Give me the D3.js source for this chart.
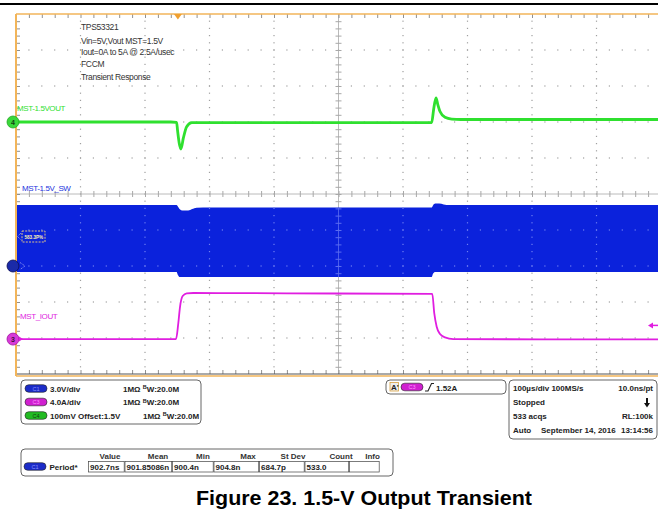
<!DOCTYPE html>
<html><head><meta charset="utf-8">
<script src="https://cdn.jsdelivr.net/npm/d3@7"></script>
<style>
html,body{margin:0;padding:0;background:#fff;}
svg{display:block;font-family:Arial,"Liberation Sans",sans-serif;}
</style></head><body>
<svg id="chart" width="658" height="529"></svg>
<script>
// ---------- data ----------
// CH4 : output voltage (V), time in microseconds from left edge of screen
const voutTime  = [0, 120, 240, 249, 250.5, 253, 255.8, 259.4, 264.6, 272.4, 282, 420, 644.5, 647.5, 651.2, 654, 657.4, 665.1, 675.5, 690, 850, 1000];
const voutVolts = [1.500, 1.500, 1.500, 1.499, 1.476, 1.442, 1.425, 1.455, 1.487, 1.498, 1.4985, 1.4985, 1.4985, 1.535, 1.567, 1.548, 1.529, 1.513, 1.508, 1.507, 1.507, 1.507];
// CH1 : switch node envelope (V)
const swTime = [0, 249, 251, 254, 258, 267, 273, 280, 300, 644.5, 646.5, 650, 656, 663, 672, 1000];
const swHigh = [5.08, 5.08, 4.95, 4.72, 4.62, 4.62, 4.74, 4.86, 4.88, 4.88, 5.05, 5.20, 5.20, 5.13, 5.08, 5.08];
const swLow  = [-0.50, -0.50, -0.75, -0.92, -0.92, -0.92, -0.92, -0.92, -0.92, -0.92, -0.65, -0.50, -0.50, -0.50, -0.50, -0.50];
// CH3 : output current (A)
const ioutTime = [0, 120, 247, 248.1, 251.6, 254.3, 258.4, 264.7, 274.9, 420, 645.4, 648.5, 652.2, 657.4, 665.1, 678, 820, 1000];
const ioutAmps = [0, 0, 0, 0, 1.74, 3.59, 4.78, 5.08, 5.12, 5.08, 5.02, 2.85, 1.37, 0.56, 0.19, 0.0, -0.03, -0.03];

const noteLines = ["TPS53321", "Vin=5V,Vout MST=1.5V", "Iout=0A to 5A @ 2.5A/usec", "FCCM", "Transient Response"];
const traceLabels = ["MST-1.5VOUT", "MST-1.5V_SW", "MST_IOUT"];
const chanNames = ["C1", "C3", "C4"];
const chanScales = ["3.0V/div", "4.0A/div", "100mV  Offset:1.5V"];
const chanImp = ["1MΩ", "1MΩ", "1MΩ"];
const chanBw = ["W:20.0M", "W:20.0M", "W:20.0M"];
const trigLevel = "1.52A";
const trigAmps = 1.52;
const timebase = ["100µs/div  100MS/s", "10.0ns/pt", "Stopped", "533 acqs", "RL:100k", "Auto", "September 14, 2016", "13:14:56"];
const measHeaders = ["Value", "Mean", "Min", "Max", "St Dev", "Count", "Info"];
const measValues = ["902.7ns", "901.85086n", "900.4n", "904.8n", "684.7p", "533.0", ""];
const measName = "Period*";
const badgeText = "583.3P%";
const figTitle = "Figure 23. 1.5-V Output Transient";

// ---------- drawing ----------
const svg = d3.select("#chart");
const L = 16, R = 661, T = 14, B = 374;
const x = d3.scaleLinear().domain([0, 1000]).range([L, R]);
const dv = d3.scaleLinear().domain([-5, 5]).range([B, T]);
const yG = v => dv(2 + (v - 1.5) / 0.1);
const yB = v => dv(-2 + v / 3);
const yM = a => dv(-4.03 + a / 4);

const C_GREEN = "#2fe02f", C_BLUE = "#0b22dc", C_MAG = "#e01ee0", C_ORANGE = "#f2b55a";

svg.append("rect").attr("width", 658).attr("height", 529).attr("fill", "#fff");
svg.append("line").attr("x1", 0).attr("x2", 658).attr("y1", 4).attr("y2", 4).attr("stroke", "#000").attr("stroke-width", 2);

const defs = svg.append("defs");
defs.append("clipPath").attr("id", "plotclip").append("rect").attr("x", L).attr("y", T).attr("width", 658 - L).attr("height", B - T);

// grid dots
const majorT = d3.range(100, 1000, 100).filter(t => t !== 500);
const majorD = d3.range(-4, 5, 1).filter(d => d !== 0);
const minorT = d3.range(20, 1000, 20);
const minorD = d3.range(-4.8, 5, 0.2).map(d => Math.round(d * 10) / 10);
function drawDots(g, color) {
  const pts = [];
  majorT.forEach(t => minorD.forEach(d => pts.push([x(t), dv(d)])));
  majorD.forEach(d => minorT.forEach(t => pts.push([x(t), dv(d)])));
  g.selectAll("rect.dot").data(pts).join("rect").attr("class", "dot")
    .attr("x", p => p[0] - 0.6).attr("y", p => p[1] - 0.6).attr("width", 1.2).attr("height", 1.2).attr("fill", color);
}
function drawCenter(g, color) {
  g.append("line").attr("x1", L).attr("x2", R).attr("y1", dv(0)).attr("y2", dv(0)).attr("stroke", color).attr("stroke-width", 0.8);
  g.append("line").attr("x1", x(500)).attr("x2", x(500)).attr("y1", T).attr("y2", B).attr("stroke", color).attr("stroke-width", 0.8);
  g.append("g").attr("transform", `translate(0,${dv(0) - 3})`)
    .call(d3.axisBottom(x).tickValues(minorT).tickSize(6).tickFormat(""))
    .call(s => s.select(".domain").remove()).selectAll("line").attr("stroke", color);
  g.append("g").attr("transform", `translate(${x(500) - 3},0)`)
    .call(d3.axisRight(dv).tickValues(minorD).tickSize(6).tickFormat(""))
    .call(s => s.select(".domain").remove()).selectAll("line").attr("stroke", color);
}
const grid = svg.append("g").attr("clip-path", "url(#plotclip)");
drawDots(grid, "#a0a0a0");
drawCenter(grid, "#a8a8a8");

// border ticks
const bt = svg.append("g").attr("clip-path", "url(#plotclip)");
bt.append("g").attr("transform", `translate(0,${T})`).call(d3.axisBottom(x).tickValues(minorT).tickSize(4).tickFormat(""))
  .call(s => s.select(".domain").remove()).selectAll("line").attr("stroke", "#909090");
bt.append("g").attr("transform", `translate(0,${B})`).call(d3.axisTop(x).tickValues(minorT).tickSize(4).tickFormat(""))
  .call(s => s.select(".domain").remove()).selectAll("line").attr("stroke", "#909090");
bt.append("g").attr("transform", `translate(${L},0)`).call(d3.axisRight(dv).tickValues(minorD).tickSize(4).tickFormat(""))
  .call(s => s.select(".domain").remove()).selectAll("line").attr("stroke", "#909090");

// traces
const traces = svg.append("g").attr("clip-path", "url(#plotclip)");
const swData = swTime.map((t, i) => ({t, hi: swHigh[i], lo: swLow[i]}));
const swArea = d3.area().x(d => x(d.t)).y0(d => yB(d.lo)).y1(d => yB(d.hi)).curve(d3.curveMonotoneX);
traces.append("path").datum(swData).attr("d", swArea).attr("fill", C_BLUE);
defs.append("clipPath").attr("id", "swclip").append("path").datum(swData).attr("d", swArea);
const overBlue = traces.append("g").attr("clip-path", "url(#swclip)");
drawDots(overBlue, "#6f7ff2");
drawCenter(overBlue, "#5a6cf0");

const voutData = voutTime.map((t, i) => ({t, v: voutVolts[i]}));
traces.append("path").datum(voutData)
  .attr("d", d3.line().x(d => x(d.t)).y(d => yG(d.v)).curve(d3.curveMonotoneX))
  .attr("fill", "none").attr("stroke", C_GREEN).attr("stroke-width", 2.8).attr("stroke-linejoin", "round");

const ioutData = ioutTime.map((t, i) => ({t, a: ioutAmps[i]}));
traces.append("path").datum(ioutData)
  .attr("d", d3.line().x(d => x(d.t)).y(d => yM(d.a)).curve(d3.curveMonotoneX))
  .attr("fill", "none").attr("stroke", C_MAG).attr("stroke-width", 1.8);

// border
svg.append("line").attr("x1", L).attr("x2", 658).attr("y1", T).attr("y2", T).attr("stroke", C_ORANGE).attr("stroke-width", 1.5);
svg.append("line").attr("x1", L).attr("x2", 658).attr("y1", B).attr("y2", B).attr("stroke", "#555").attr("stroke-width", 1);
svg.append("line").attr("x1", L).attr("x2", 658).attr("y1", B + 2).attr("y2", B + 2).attr("stroke", C_ORANGE).attr("stroke-width", 1.6);
svg.append("line").attr("x1", L).attr("x2", L).attr("y1", T).attr("y2", B + 2).attr("stroke", C_ORANGE).attr("stroke-width", 2);

// trigger position marker
const trigT = 251;
svg.append("path").attr("d", `M${x(trigT) - 4},${T} L${x(trigT) + 4},${T} L${x(trigT)},${T + 5.5} Z`).attr("fill", "#f0a030");

// trigger level arrow (right)
const ty = yM(trigAmps);
svg.append("path").attr("d", `M648,${ty} L653,${ty - 3} L653,${ty + 3} Z`).attr("fill", C_MAG);
svg.append("line").attr("x1", 652).attr("x2", 658).attr("y1", ty).attr("y2", ty).attr("stroke", C_MAG).attr("stroke-width", 1.5);

// notes
svg.append("g").selectAll("text").data(noteLines).join("text")
  .attr("x", 81).attr("y", (d, i) => [30, 43.5, 55, 66.5, 80][i])
  .attr("font-size", 8.5).attr("fill", "#333").attr("letter-spacing", -0.35).text(d => d);

// trace labels
const labPos = [[17, 111, C_GREEN], [22, 191, "#2233dd"], [20, 319, C_MAG]];
svg.append("g").selectAll("text").data(traceLabels).join("text")
  .attr("x", (d, i) => labPos[i][0]).attr("y", (d, i) => labPos[i][1]).attr("fill", (d, i) => labPos[i][2])
  .attr("font-size", 8).attr("letter-spacing", -0.4).text(d => d);

// badge on switching trace
svg.append("rect").attr("x", 22).attr("y", 231).attr("width", 23).attr("height", 11)
  .attr("fill", "none").attr("stroke", "#f0d080").attr("stroke-width", 0.9).attr("stroke-dasharray", "2,1.2");
svg.append("text").attr("x", 24.5).attr("y", 238.8).attr("font-size", 4.6).attr("font-weight", "bold").attr("fill", "#ffeeb0").text(badgeText);
svg.append("path").attr("d", "M21,233 L17.5,236.5 L21,240").attr("fill", "none").attr("stroke", "#e0e0ff").attr("stroke-width", 0.7).attr("stroke-dasharray", "1,1");

// channel ground markers
const mk = svg.append("g");
mk.append("circle").attr("cx", 13).attr("cy", yG(1.5)).attr("r", 6).attr("fill", "#3ad83a").attr("stroke", "#22a822").attr("stroke-width", 0.8);
mk.append("text").attr("x", 13).attr("y", yG(1.5) + 2.6).attr("text-anchor", "middle").attr("font-size", 7).attr("font-weight", "bold").attr("fill", "#124012").text("4");
mk.append("circle").attr("cx", 13).attr("cy", yB(0)).attr("r", 6).attr("fill", "#1a2aa8").attr("stroke", "#0a0a50").attr("stroke-width", 0.8);
mk.append("path").attr("d", `M20,${yB(0) - 3.5} L25,${yB(0)} L20,${yB(0) + 3.5}`).attr("fill", "none").attr("stroke", "#c8ccff").attr("stroke-width", 0.7).attr("stroke-dasharray", "1,1");
mk.append("circle").attr("cx", 13).attr("cy", yM(0)).attr("r", 6).attr("fill", "#d83ad8").attr("stroke", "#a010a0").attr("stroke-width", 0.8);
mk.append("text").attr("x", 13).attr("y", yM(0) + 2.6).attr("text-anchor", "middle").attr("font-size", 7).attr("font-weight", "bold").attr("fill", "#401040").text("3");
mk.append("path").attr("d", `M19,${yM(0) - 2.5} L23,${yM(0)} L19,${yM(0) + 2.5} Z`).attr("fill", C_MAG);

// ---------- info panels ----------
function panel(x0, y0, w, h) {
  svg.append("rect").attr("x", x0).attr("y", y0).attr("width", w).attr("height", h).attr("rx", 4)
    .attr("fill", "#fff").attr("stroke", "#666").attr("stroke-width", 1);
}
function pill(cx, cy, fill, txt, tc) {
  svg.append("rect").attr("x", cx - 11).attr("y", cy - 3.8).attr("width", 22).attr("height", 7.6).attr("rx", 3.8)
    .attr("fill", fill).attr("stroke", "#222").attr("stroke-width", 0.6);
  svg.append("text").attr("x", cx).attr("y", cy + 2).attr("text-anchor", "middle").attr("font-size", 5.5)
    .attr("fill", tc).text(txt);
}
const bold = s => s.attr("font-weight", "bold").attr("font-size", 8).attr("fill", "#222");

panel(21, 380, 180, 44);
const pillFill = ["#1c2cc8", "#d020d0", "#22bb22"];
const pillTxt = ["#8890ff", "#ff90ff", "#104010"];
chanNames.forEach((c, i) => {
  const cy = [388.5, 402, 415.5][i];
  pill(36, cy, pillFill[i], c, pillTxt[i]);
  bold(svg.append("text").attr("x", 50).attr("y", cy + 3)).text(chanScales[i]);
  const tx = bold(svg.append("text").attr("x", i === 2 ? 143 : 123).attr("y", cy + 3));
  tx.append("tspan").text(chanImp[i] + " ");
  tx.append("tspan").attr("font-size", 5.5).attr("dy", -2.2).text("B");
  tx.append("tspan").attr("dy", 2.2).text(chanBw[i]);
});

panel(386, 380, 120, 14);
svg.append("rect").attr("x", 390).attr("y", 382.5).attr("width", 8.5).attr("height", 8.5).attr("fill", "#eee").attr("stroke", "#d8a040").attr("stroke-width", 0.8);
bold(svg.append("text").attr("x", 391).attr("y", 390).attr("font-size", 6.5)).text("A'");
pill(412, 387, "#d020d0", "C3", "#ff90ff");
svg.append("path").attr("d", "M425,391 L428,391 L431.5,383.5 L434,383.5").attr("fill", "none").attr("stroke", "#222").attr("stroke-width", 1.1);
bold(svg.append("text").attr("x", 436).attr("y", 390.5)).text(trigLevel);

panel(509, 380, 148, 59);
bold(svg.append("text").attr("x", 513).attr("y", 391)).text(timebase[0]);
bold(svg.append("text").attr("x", 653).attr("y", 391).attr("text-anchor", "end")).text(timebase[1]);
bold(svg.append("text").attr("x", 513).attr("y", 405)).text(timebase[2]);
svg.append("line").attr("x1", 647).attr("x2", 647).attr("y1", 398).attr("y2", 404).attr("stroke", "#111").attr("stroke-width", 2);
svg.append("path").attr("d", "M644,403 L650,403 L647,407.5 Z").attr("fill", "#111");
bold(svg.append("text").attr("x", 513).attr("y", 419)).text(timebase[3]);
bold(svg.append("text").attr("x", 653).attr("y", 419).attr("text-anchor", "end")).text(timebase[4]);
bold(svg.append("text").attr("x", 513).attr("y", 432.5)).text(timebase[5]);
bold(svg.append("text").attr("x", 541).attr("y", 432.5)).text(timebase[6]);
bold(svg.append("text").attr("x", 653).attr("y", 432.5).attr("text-anchor", "end")).text(timebase[7]);

panel(21, 449, 372, 27);
const cellX = [88.5, 125, 172.5, 214, 259.5, 305, 349.5, 380];
const headCx = [110, 158, 203, 248, 293, 341, 372.5];
measHeaders.forEach((h, i) => {
  bold(svg.append("text").attr("x", headCx[i]).attr("y", 458.5).attr("text-anchor", "middle")).attr("fill", "#333").text(h);
});
pill(35, 466.5, "#1c2cc8", "C1", "#8890ff");
bold(svg.append("text").attr("x", 49.5).attr("y", 469.5)).text(measName);
measValues.forEach((v, i) => {
  svg.append("rect").attr("x", cellX[i]).attr("y", 461.5).attr("width", cellX[i + 1] - cellX[i] - 0.8).attr("height", 10.5)
    .attr("fill", "#fff").attr("stroke", "#444").attr("stroke-width", 0.7);
  bold(svg.append("text").attr("x", cellX[i] + 1.5).attr("y", 469.8)).text(v);
});

// title
svg.append("text").attr("x", 196).attr("y", 504.5).attr("font-size", 20.5).attr("font-weight", "bold").attr("fill", "#000")
  .attr("textLength", 336).attr("lengthAdjust", "spacingAndGlyphs").text(figTitle);
</script>
</body></html>
